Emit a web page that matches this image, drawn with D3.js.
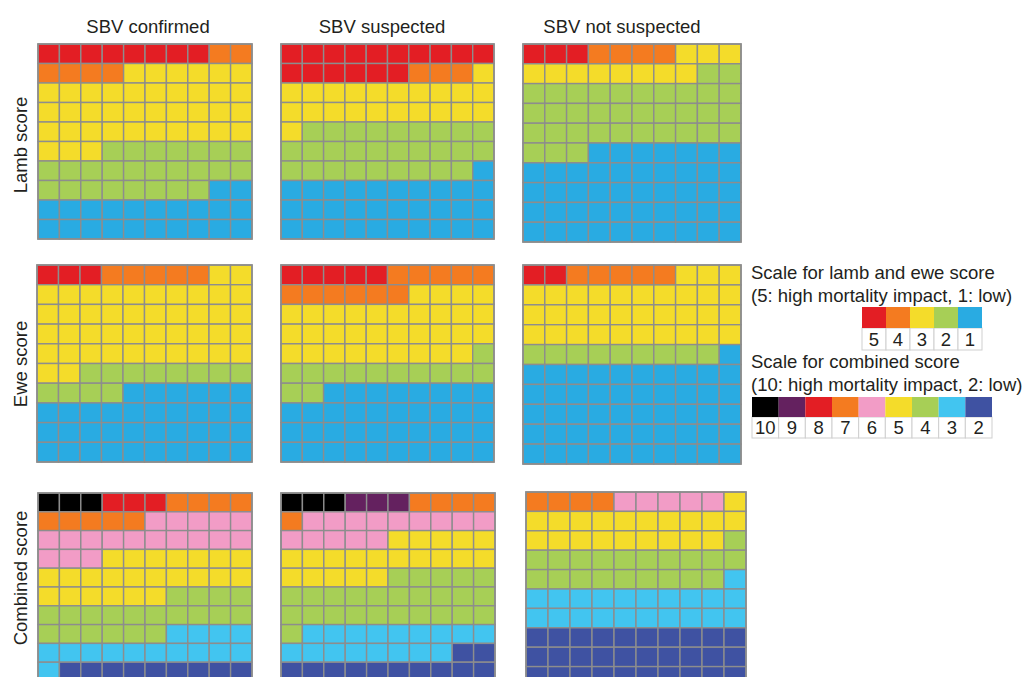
<!DOCTYPE html>
<html>
<head>
<meta charset="utf-8">
<script src="https://cdn.jsdelivr.net/npm/d3@7"></script>
<style>
  html, body { margin: 0; padding: 0; background: #fff; }
  svg { display: block; font-family: "Liberation Sans", Arial, Helvetica, sans-serif; }
</style>
</head>
<body>
<svg id="chart" width="1024" height="677"></svg>
<script>
// Farm groups (columns) and score types (rows)
const groups = ["SBV confirmed", "SBV suspected", "SBV not suspected"];
const scoreTypes = ["Lamb score", "Ewe score", "Combined score"];

// Score levels, highest impact first
const singleScores = [5, 4, 3, 2, 1];
const combinedScores = [10, 9, 8, 7, 6, 5, 4, 3, 2];

// Percentage of farms per score level (each group sums to 100)
const lambCounts = [
  [8, 6, 39, 25, 22],
  [16, 3, 22, 28, 31],
  [3, 4, 11, 35, 47]
];
const eweCounts = [
  [3, 5, 44, 12, 36],
  [5, 11, 33, 13, 38],
  [2, 5, 33, 9, 51]
];
const combinedCounts = [
  [3, 0, 3, 9, 18, 23, 20, 15, 9],
  [3, 3, 0, 5, 14, 20, 26, 17, 12],
  [0, 0, 0, 4, 5, 20, 20, 21, 30]
];

// Colour ramps
const singleColors = ["#e31e24", "#f47b20", "#f4dc2a", "#a7cf56", "#29abe2"];
const combinedColors = ["#000000", "#64215f", "#e31e24", "#f47b20", "#f29cc6",
                        "#f4dc2a", "#a7cf56", "#42c5f0", "#3f52a2"];

const singleColor = d3.scaleOrdinal(singleScores, singleColors);
const combinedColor = d3.scaleOrdinal(combinedScores, combinedColors);

const svg = d3.select("#chart");

// Frame of each waffle grid: [left, top, right, bottom]
const frames = [
  [[38, 44, 252, 239], [281, 44, 494, 239], [523, 44, 741, 242]],
  [[37, 265, 252, 462], [281, 265, 494, 462], [523, 265, 741, 464]],
  [[38, 493, 252, 681], [281, 493, 495, 681], [526, 492, 746, 686]]
];

const panelData = [lambCounts, eweCounts, combinedCounts];
const panelLevels = [singleScores, singleScores, combinedScores];
const panelColor = [singleColor, singleColor, combinedColor];

const idx = d3.range(10);

function expand(counts, levels) {
  const cells = [];
  counts.forEach((n, i) => { for (let k = 0; k < n; k++) cells.push(levels[i]); });
  return cells.map((level, i) => ({ level, row: Math.floor(i / 10), col: i % 10 }));
}

scoreTypes.forEach((type, r) => {
  groups.forEach((g, c) => {
    const [x0, y0, x1, y1] = frames[r][c];
    const x = d3.scaleBand().domain(idx).range([x0, x1]);
    const y = d3.scaleBand().domain(idx).range([y0, y1]);
    const cells = expand(panelData[r][c], panelLevels[r]);
    const color = panelColor[r];
    const gPanel = svg.append("g");
    gPanel.selectAll("rect")
      .data(cells)
      .join("rect")
      .attr("x", d => x(d.col))
      .attr("y", d => y(d.row))
      .attr("width", x.bandwidth())
      .attr("height", y.bandwidth())
      .attr("fill", d => color(d.level))
      .attr("stroke", "#8d8d8d")
      .attr("stroke-width", 1.4);
    gPanel.append("rect")
      .attr("x", x0).attr("y", y0)
      .attr("width", x1 - x0).attr("height", y1 - y0)
      .attr("fill", "none")
      .attr("stroke", "#8d8d8d")
      .attr("stroke-width", 1.6);
  });
});

// Column titles
const titleX = [148, 382, 622];
svg.selectAll("text.col-title")
  .data(groups)
  .join("text")
  .attr("class", "col-title")
  .attr("x", (d, i) => titleX[i])
  .attr("y", 33)
  .attr("text-anchor", "middle")
  .attr("font-size", 18.5)
  .attr("fill", "#231f20")
  .text(d => d);

// Row titles
const rowCenter = [145, 364, 578];
svg.selectAll("text.row-title")
  .data(scoreTypes)
  .join("text")
  .attr("class", "row-title")
  .attr("transform", (d, i) => `translate(27,${rowCenter[i]}) rotate(-90)`)
  .attr("text-anchor", "middle")
  .attr("font-size", 18.5)
  .attr("fill", "#231f20")
  .text(d => d);

// Legends
function legend(levels, color, x0, x1, ySw, hSw, hNum) {
  const x = d3.scaleBand().domain(levels).range([x0, x1]);
  const g = svg.append("g");
  g.selectAll("rect.num")
    .data(levels)
    .join("rect")
    .attr("class", "num")
    .attr("x", d => x(d))
    .attr("y", ySw + hSw)
    .attr("width", x.bandwidth())
    .attr("height", hNum)
    .attr("fill", "#fff")
    .attr("stroke", "#cfcfcf")
    .attr("stroke-width", 1);
  g.selectAll("rect.sw")
    .data(levels)
    .join("rect")
    .attr("class", "sw")
    .attr("x", d => x(d))
    .attr("y", ySw)
    .attr("width", x.bandwidth())
    .attr("height", hSw)
    .attr("fill", d => color(d));
  g.selectAll("text")
    .data(levels)
    .join("text")
    .attr("x", d => x(d) + x.bandwidth() / 2)
    .attr("y", ySw + hSw + hNum - 4)
    .attr("text-anchor", "middle")
    .attr("font-size", 18.5)
    .attr("fill", "#231f20")
    .text(d => d);
}

const legendText = [
  ["Scale for lamb and ewe score", 279],
  ["(5: high mortality impact, 1: low)", 302],
  ["Scale for combined score", 368],
  ["(10: high mortality impact, 2: low)", 391]
];
svg.selectAll("text.leg")
  .data(legendText)
  .join("text")
  .attr("class", "leg")
  .attr("x", 751)
  .attr("y", d => d[1])
  .attr("font-size", 18.5)
  .attr("fill", "#231f20")
  .text(d => d[0]);

legend(singleScores, singleColor, 862, 982, 307, 21, 22);
legend(combinedScores, combinedColor, 752, 992, 397, 20, 21);
</script>
</body>
</html>
